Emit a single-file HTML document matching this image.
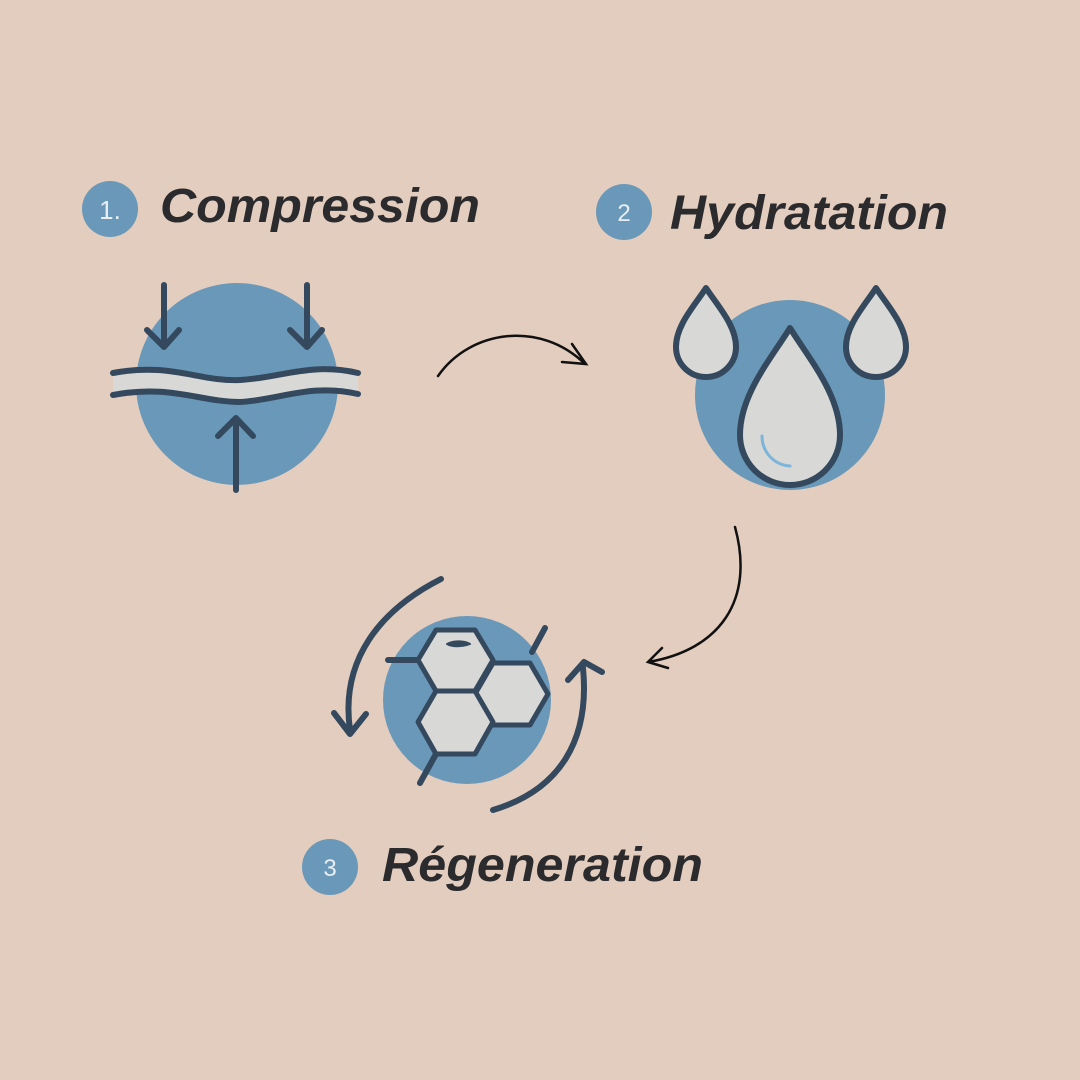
<!DOCTYPE html>
<html><head><meta charset="utf-8"><style>
body{margin:0;background:#e3cdbf;}
svg{display:block}
</style></head><body>
<svg width="1080" height="1080" viewBox="0 0 1080 1080" xmlns="http://www.w3.org/2000/svg">
<rect width="1080" height="1080" fill="#e3cdbf"/>
<g font-family="Liberation Sans, sans-serif">
<circle cx="110" cy="209" r="28" fill="#6a98b9"/>
<text x="110" y="219" font-size="26" fill="#e8eef3" text-anchor="middle">1.</text>
<text x="160" y="222" font-size="48" font-weight="bold" font-style="italic" fill="#2b2b2e" textLength="320" lengthAdjust="spacingAndGlyphs">Compression</text>
<circle cx="624" cy="212" r="28" fill="#6a98b9"/>
<text x="624" y="221" font-size="24" fill="#e8eef3" text-anchor="middle">2</text>
<text x="670" y="229" font-size="48" font-weight="bold" font-style="italic" fill="#2b2b2e" textLength="278" lengthAdjust="spacingAndGlyphs">Hydratation</text>
<circle cx="330" cy="867" r="28" fill="#6a98b9"/>
<text x="330" y="876" font-size="24" fill="#e8eef3" text-anchor="middle">3</text>
<text x="382" y="881" font-size="48" font-weight="bold" font-style="italic" fill="#2b2b2e" textLength="321" lengthAdjust="spacingAndGlyphs">Régeneration</text>
</g>
<g stroke="#34495e" stroke-width="6" stroke-linecap="round" stroke-linejoin="round" fill="none">
<!-- 1 -->
<circle cx="237" cy="384" r="101" fill="#6a98b9" stroke="none"/>
<path d="M113,373 C170,362 200,382 240,380 C280,378 310,362 358,373 L358,394 C310,383 280,400 240,402 C200,402 170,384 113,395 Z" fill="#d8d8d6" stroke="none"/>
<path d="M113,373 C170,362 200,382 240,380 C280,378 310,362 358,373"/>
<path d="M113,395 C170,384 200,402 240,402 C280,400 310,383 358,394"/>
<path d="M164,285 V345 M147,330 L164,347 L179,330"/>
<path d="M307,285 V345 M290,330 L307,347 L322,330"/>
<path d="M236,490 V418 M218,436 L236,418 L253,436"/>
<!-- 2 -->
<circle cx="790" cy="395" r="95" fill="#6a98b9" stroke="none"/>
<path d="M790,328 C770,360 740,395 740,435 A50,50 0 0 0 840,435 C840,395 810,360 790,328 Z" fill="#d8d8d6"/>
<path d="M762,436 C762,452 774,465 790,466" stroke="#7db4da" stroke-width="3"/>
<path d="M706,288 C695,305 676,325 676,347 A30,30 0 0 0 736,347 C736,325 717,305 706,288 Z" fill="#d8d8d6"/>
<path d="M876,288 C865,305 846,325 846,347 A30,30 0 0 0 906,347 C906,325 887,305 876,288 Z" fill="#d8d8d6"/>
<!-- 3 -->
<circle cx="467" cy="700" r="84" fill="#6a98b9" stroke="none"/>
<g fill="#d8d8d6" stroke-width="5">
<polygon points="436,630 475,630 493,660 475,691 436,691 418,660"/>
<polygon points="493,663 530,663 548,694 530,725 493,725 475,694"/>
<polygon points="436,691 475,691 493,722 475,754 436,754 418,722"/>
</g>
<path d="M447,644 C455,640 465,641 470,644 C462,647 452,647 447,644 Z" fill="#34495e" stroke-width="2"/>
<path d="M388,660 H418 M532,652 L545,628 M436,754 L420,783"/>
<path d="M441,579 C380,610 340,660 350,730 M334,713 L350,734 L366,714"/>
<path d="M493,810 C560,790 590,740 583,668 M568,680 L584,662 L602,672"/>
</g>
<g stroke="#111" stroke-width="2.5" fill="none" stroke-linecap="round">
<path d="M438,376 C470,330 540,320 585,364 M572,344 L586,364 L562,362"/>
<path d="M735,527 C755,600 720,650 648,662 M662,648 L648,662 L668,668"/>
</g>
</svg>
</body></html>
